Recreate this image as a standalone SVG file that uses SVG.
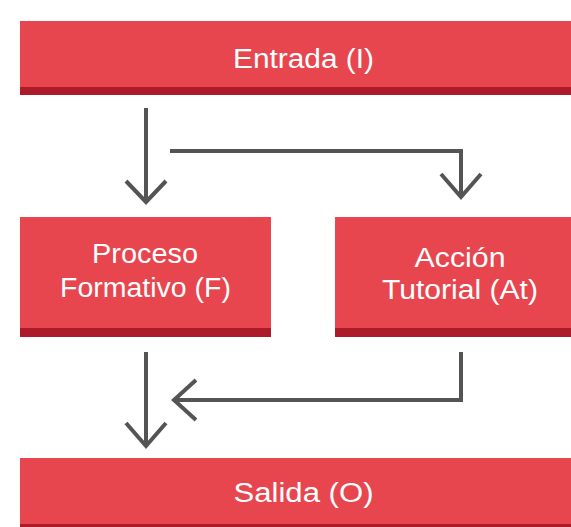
<svg xmlns="http://www.w3.org/2000/svg" width="571" height="527" viewBox="0 0 571 527">
<defs>
<style>
.box{fill:#E8464F}
.stripe{fill:#AD1A2A}
.lbl{font-family:"Liberation Sans",Arial,sans-serif;font-size:27px;fill:#FFFFFF;text-anchor:middle}
.conn{fill:none;stroke:#545454;stroke-width:4;stroke-linecap:butt;stroke-linejoin:miter}
</style>
</defs>
<rect width="571" height="527" fill="#FFFFFF"/>
<g id="entrada">
<rect class="box" x="20" y="21" width="551" height="74"/>
<rect class="stripe" x="20" y="87" width="551" height="8"/>
<text class="lbl" x="303.5" y="68" textLength="141" lengthAdjust="spacingAndGlyphs">Entrada (I)</text>
</g>
<g id="proceso">
<rect class="box" x="20" y="217" width="251" height="120"/>
<rect class="stripe" x="20" y="328" width="251" height="9"/>
<text class="lbl" x="145" y="263" textLength="106" lengthAdjust="spacingAndGlyphs">Proceso</text>
<text class="lbl" x="145.5" y="297" textLength="171" lengthAdjust="spacingAndGlyphs">Formativo (F)</text>
</g>
<g id="accion">
<rect class="box" x="335" y="217" width="236" height="120"/>
<rect class="stripe" x="335" y="328" width="236" height="9"/>
<text class="lbl" x="460" y="267" textLength="91" lengthAdjust="spacingAndGlyphs">Acción</text>
<text class="lbl" x="460" y="299" textLength="156" lengthAdjust="spacingAndGlyphs">Tutorial (At)</text>
</g>
<g id="salida">
<rect class="box" x="20" y="458" width="551" height="69"/>
<rect class="stripe" x="20" y="524" width="551" height="3"/>
<text class="lbl" x="303.5" y="502" textLength="140" lengthAdjust="spacingAndGlyphs">Salida (O)</text>
</g>
<g id="connectors">
<path class="conn" d="M146,108 V201"/>
<path class="conn" d="M126,181 L146,202 L166,181"/>
<path class="conn" d="M170,151 H461 V196"/>
<path class="conn" d="M441,174 L461,197 L481,174"/>
<path class="conn" d="M146,352 V445"/>
<path class="conn" d="M126,423 L146,446 L166,423"/>
<path class="conn" d="M461,352 V400 H175"/>
<path class="conn" d="M196,380 L174,400 L196,420"/>
</g>
</svg>
